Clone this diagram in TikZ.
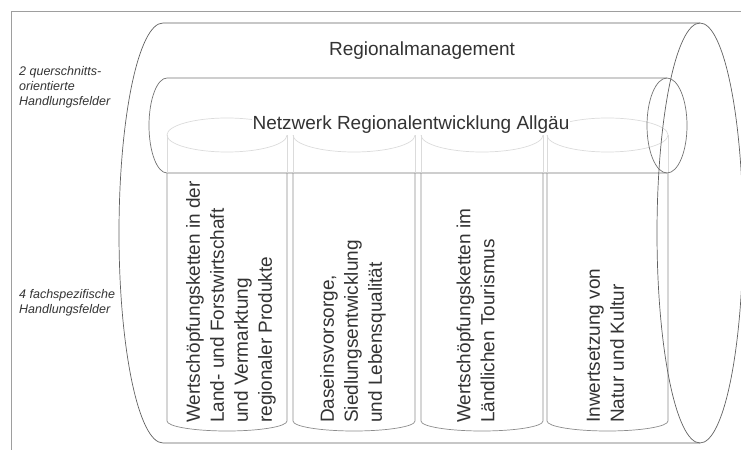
\documentclass[tikz,border=0pt]{standalone}
\usepackage{fontspec}
\setmainfont{Liberation Sans}
\begin{document}
\begin{tikzpicture}[x=1pt,y=1pt,
  frame/.style={draw=black!38, line width=0.6pt},
  outer/.style={draw=black!62, line width=0.7pt},
  inner/.style={draw=black!55, line width=0.7pt},
  colbody/.style={draw=black!45, line width=0.7pt},
  colghost/.style={draw=black!14, line width=0.7pt},
  title/.style={font=\fontsize{19}{23}\selectfont, text=black!80, inner sep=1pt},
  coltext/.style={font=\fontsize{19}{24}\selectfont, text=black!80, rotate=90, anchor=west, align=left, inner sep=0pt},
  side/.style={font=\itshape\fontsize{12.5}{15}\selectfont, text=black!80, align=left, anchor=west, inner sep=0pt}]
\useasboundingbox (0,0) rectangle (741,450);
% frame
\coordinate (fr) at (741,439);
\coordinate (fc) at (11,439);
\coordinate (fb) at (11,0);
\draw[frame] (fr) -- (fc) -- (fb);
% big cylinder body
\draw[outer] (700,427) -- (163,427) arc[start angle=90,end angle=270,x radius=44,y radius=210] -- (700,7);
% network cylinder body
\draw[inner] (667,372) -- (167,372) arc[start angle=90,end angle=270,x radius=18,y radius=47.5] -- (667,277);
% columns
\foreach \a/\b in {167/287, 293/415, 421/543, 547/668}{
  \pgfmathsetmacro\r{(\b-\a)/2}
  \pgfmathsetmacro\m{(\b+\a)/2}
  \draw[colghost] (\m,315) ellipse[x radius=\r, y radius=17];
  \draw[colghost] (\a,315) -- (\a,277) (\b,315) -- (\b,277);
  \draw[colbody] (\a,277) -- (\a,29) arc[start angle=180,end angle=360,x radius=\r,y radius=10] -- (\b,277);
}
% texts
\node[title] (rm) at (422,399) {Regionalmanagement};
\node[title, fill=white] (nw) at (411,325) {Netzwerk Regionalentwicklung Allgäu};
\node[coltext] (c1) at (231,27) {Wertschöpfungsketten in der\\Land- und Forstwirtschaft\\und Vermarktung\\regionaler Produkte};
\node[coltext] (c2) at (353,27) {Daseinsvorsorge,\\Siedlungsentwicklung\\und Lebensqualität};
\node[coltext] (c3) at (475.5,27) {Wertschöpfungsketten im\\Ländlichen Tourismus};
\node[coltext] (c4) at (605.5,27) {Inwertsetzung von\\Natur und Kultur};
\node[side] (s1) at (19,363) {2 querschnitts-\\orientierte\\Handlungsfelder};
\node[side] (s2) at (19,147) {4 fachspezifische\\Handlungsfelder};
% end caps
\draw[inner] (667,324.5) ellipse[x radius=20, y radius=47.5];
\draw[outer] (700,217) ellipse[x radius=43, y radius=210];
\end{tikzpicture}
\end{document}
